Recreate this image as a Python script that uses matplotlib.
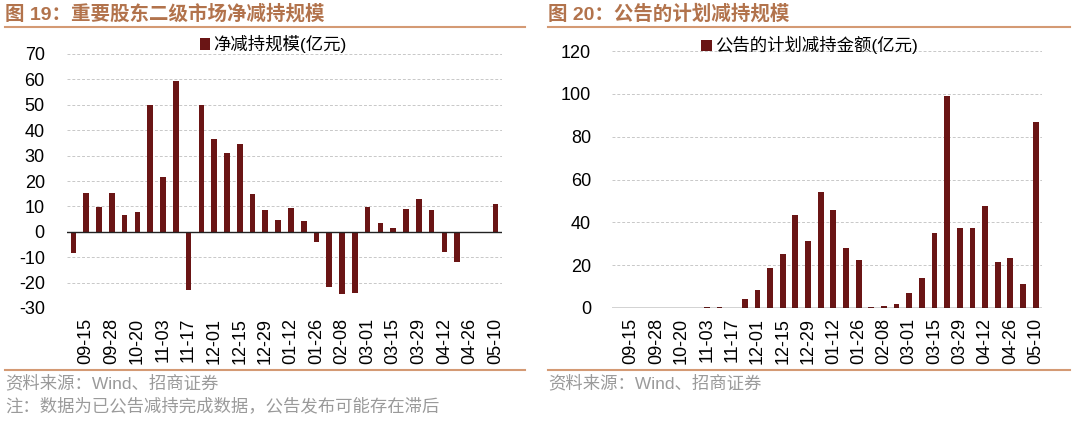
import numpy as np
import matplotlib.pyplot as plt
from matplotlib.lines import Line2D

plt.rcParams['font.family'] = ['Liberation Sans', 'Noto Sans CJK SC', 'DejaVu Sans']
plt.rcParams['axes.unicode_minus'] = False

dates = ['09-08', '09-15', '09-22', '09-28', '10-13', '10-20', '10-27', '11-03', '11-10', '11-17',
         '11-24', '12-01', '12-08', '12-15', '12-22', '12-29', '01-05', '01-12', '01-19', '01-26',
         '02-02', '02-08', '02-23', '03-01', '03-08', '03-15', '03-22', '03-29', '04-05', '04-12',
         '04-19', '04-26', '05-03', '05-10']

net_reduce = [-8.5, 15.3, 9.7, 15.3, 6.8, 7.8, 49.9, 21.4, 59.2, -23,
              49.9, 36.4, 31.2, 34.7, 15, 8.4, 4.6, 9.2, 4.2, -4.2,
              -21.6, -24.6, -24.2, 9.9, 3.4, 1.6, 9.1, 13, 8.7, -8.1,
              -11.8, 0, 0, 11]

planned = [0, 0, 0, 0, 0, 0, 0, 0.3, 0.5, 0,
           4.3, 8.5, 18.8, 25.4, 43.2, 31.4, 54.2, 45.7, 27.9, 22.5,
           0.5, 0.8, 2, 6.9, 14.1, 34.8, 98.8, 37.2, 37.2, 47.8,
           21.5, 23.3, 11.2, 86.7]

bar_color = '#6a1515'
title_color = '#b2734c'
line_color = '#d49a74'
W, H = 1080, 422

fig = plt.figure(figsize=(W / 100, H / 100), dpi=100)


def box(x0, y0, x1, y1):
    return [x0 / W, 1 - y1 / H, (x1 - x0) / W, (y1 - y0) / H]


def style(ax, ylim, yticks, ypad):
    x = np.arange(len(dates))
    ax.set_xlim(-0.5, len(dates) - 0.5)
    ax.set_ylim(*ylim)
    ax.set_yticks(yticks)
    ax.set_xticks(x[1::2])
    ax.set_xticklabels(dates[1::2], rotation=90)
    ax.tick_params(length=0, labelsize=13, colors='black')
    ax.tick_params(axis='x', pad=7)
    ax.tick_params(axis='y', pad=ypad)
    for s in ax.spines.values():
        s.set_visible(False)
    ax.grid(axis='y', color='#c8c8c8', linestyle=(0, (3, 2)), linewidth=0.7)
    ax.set_axisbelow(True)
    ax.axhline(0, color='#222222', linewidth=1.0, zorder=3)


# left panel
ax1 = fig.add_axes(box(67, 54, 502, 308))
ax1.bar(np.arange(len(dates)), net_reduce, width=0.44, color=bar_color, zorder=2,
        label='净减持规模(亿元)')
style(ax1, (-30, 70), range(-30, 71, 10), 16)
ax1.legend(loc='center', bbox_to_anchor=(0.474, 1.039), frameon=False, fontsize=12.5,
           handlelength=0.6, handleheight=0.6, handletextpad=0.2, borderpad=0)

# right panel
ax2 = fig.add_axes(box(612, 51, 1042, 308))
ax2.bar(np.arange(len(dates)), planned, width=0.46, color=bar_color, zorder=2,
        label='公告的计划减持金额(亿元)')
style(ax2, (0, 120), range(0, 121, 20), 15)
ax2.legend(loc='center', bbox_to_anchor=(0.46, 1.023), frameon=False, fontsize=12.5,
           handlelength=0.6, handleheight=0.6, handletextpad=0.2, borderpad=0)

# titles and separators
fig.text(5 / W, 1 - 14 / H, '图 19：重要股东二级市场净减持规模', color=title_color, fontsize=14,
         va='center', fontweight='bold')
fig.text(548 / W, 1 - 14 / H, '图 20：公告的计划减持规模', color=title_color, fontsize=14,
         va='center', fontweight='bold')

for x0, x1 in [(5, 525), (548, 1070)]:
    for yy in (27, 370):
        fig.add_artist(Line2D([x0 / W, x1 / W], [1 - yy / H, 1 - yy / H],
                              color=line_color, linewidth=1.5))

fig.text(5 / W, 1 - 383 / H, '资料来源：Wind、招商证券', color='#9a9a9a', fontsize=12.5, va='center')
fig.text(5 / W, 1 - 406 / H, '注：数据为已公告减持完成数据，公告发布可能存在滞后', color='#9a9a9a',
         fontsize=12.5, va='center')
fig.text(548 / W, 1 - 383 / H, '资料来源：Wind、招商证券', color='#9a9a9a', fontsize=12.5, va='center')

fig.savefig('out.png', dpi=100)
